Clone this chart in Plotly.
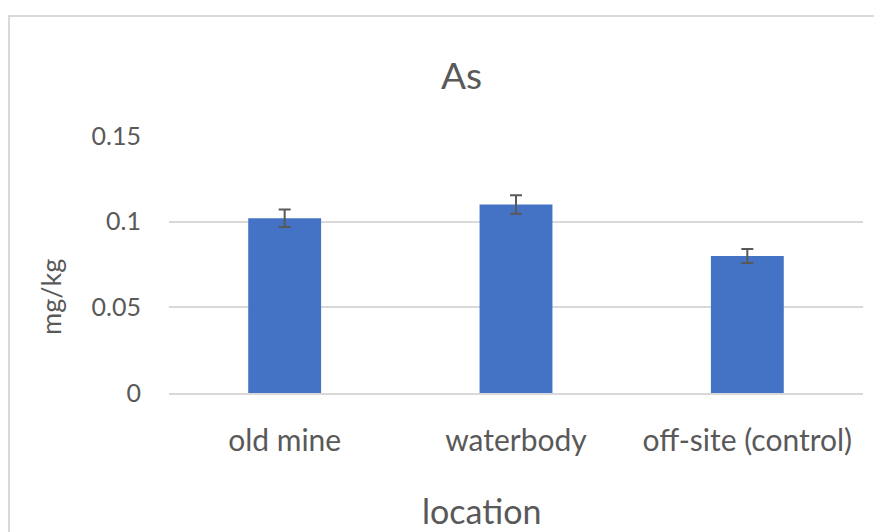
import plotly.graph_objects as go

categories = ["old mine", "waterbody", "off-site (control)"]
values = [0.102, 0.110, 0.080]
errors = [0.0051, 0.0054, 0.0041]
y_ticks = [0, 0.05, 0.1, 0.15]
y_tick_labels = ["0", "0.05", "0.1", "0.15"]

OFF = 8  # page body margin
W, H = 882 - OFF, 532 - OFF
L, R, T = 169 - OFF, 19, 136 - OFF
B = H - (393 - OFF)
pw, ph = W - L - R, H - T - B

def px(x):
    return (x - OFF - L) / pw

def py(y):
    return (H - B - (y - OFF)) / ph

TXT = "#595959"
FONT = "Lato, 'Open Sans', sans-serif"

fig = go.Figure(
    go.Bar(
        x=categories,
        y=values,
        width=0.315,
        marker=dict(color="#4472C4", line=dict(width=0)),
        error_y=dict(type="data", array=errors, visible=True,
                     color="#595959", thickness=2, width=6),
    )
)

fig.update_layout(
    width=W, height=H,
    margin=dict(l=L, r=R, t=T, b=B),
    paper_bgcolor="white", plot_bgcolor="white",
    showlegend=False,
    font=dict(family=FONT, color=TXT),
    xaxis=dict(
        showgrid=False, showline=True, linecolor="#d9d9d9", linewidth=2,
        ticks="", tickfont=dict(size=30, color=TXT, family=FONT),
        ticklabelstandoff=20,
    ),
    yaxis=dict(
        range=[0, 0.15], tickvals=y_ticks, ticktext=y_tick_labels,
        showgrid=True, gridcolor="#d9d9d9", gridwidth=1.5,
        zeroline=False, showline=False, ticks="",
        tickfont=dict(size=25, color=TXT, family=FONT),
        ticklabelstandoff=27,
    ),
    shapes=[
        dict(type="rect", xref="paper", yref="paper",
             x0=px(9), x1=px(910), y0=py(16), y1=py(580),
             line=dict(color="#d9d9d9", width=2), fillcolor="rgba(0,0,0,0)",
             layer="below"),
    ],
    annotations=[
        dict(text="As", xref="paper", yref="paper", x=px(461), y=py(75),
             xanchor="center", yanchor="middle", showarrow=False,
             font=dict(size=37, color=TXT, family=FONT)),
        dict(text="location", xref="paper", yref="paper", x=px(481), y=py(510),
             xanchor="center", yanchor="middle", showarrow=False,
             font=dict(size=34, color=TXT, family=FONT)),
        dict(text="mg/kg", xref="paper", yref="paper", x=px(50), y=py(297),
             xanchor="center", yanchor="middle", showarrow=False, textangle=-90,
             font=dict(size=27, color=TXT, family=FONT)),
    ],
)

fig.write_html("out.html")
